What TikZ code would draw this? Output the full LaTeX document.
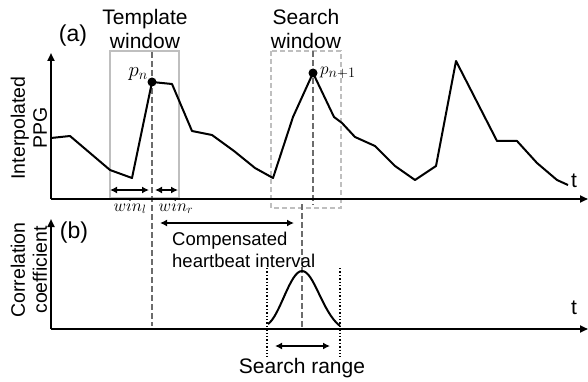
\documentclass[tikz,border=0pt]{standalone}
\usepackage{fontspec}
\setmainfont{Liberation Sans}
\usetikzlibrary{arrows.meta}
\begin{document}
\begin{tikzpicture}[x=1pt,y=-1pt,
  ax/.style={line width=2.2pt,-{Triangle[length=8pt,width=7pt]}},
  sig/.style={line width=2pt,line join=round},
  darr/.style={line width=2pt,{Latex[length=7pt,width=7pt]}-{Latex[length=7pt,width=7pt]}},
  vdash/.style={gray!85!black,line width=1.6pt,dash pattern=on 6pt off 3pt},
  rectbox/.style={black!25,line width=1.6pt},
  rectdash/.style={black!25,line width=1.6pt,dash pattern=on 5pt off 3pt},
  vdot/.style={line width=1.4pt,dotted},
  lbl/.style={inner sep=0pt,font=\fontsize{21}{24}\selectfont},
  lblsm/.style={inner sep=0pt,font=\fontsize{19.5}{22}\selectfont},
  lblc/.style={inner sep=0pt,font=\fontsize{18.5}{22}\selectfont},
  ]
\useasboundingbox (0,0) rectangle (588,382);
% windows
\draw[rectbox] (110,51) rectangle (179,198);
\draw[rectdash] (271,51) rectangle (341,208);
% dashed verticals
\coordinate (d1t) at (152,52); \coordinate (d1b) at (152,326);
\draw[vdash] (d1t) -- (d1b);
\coordinate (d2t) at (313,51); \coordinate (d2b) at (313,205);
\draw[vdash] (d2t) -- (d2b);
\coordinate (d3t) at (302,204); \coordinate (d3b) at (302,328);
\draw[vdash] (d3t) -- (d3b);
% axes (a)
\coordinate (o1) at (51,199);
\coordinate (ya) at (51,53);
\coordinate (xa) at (588,199);
\draw[ax] (o1) -- (ya);
\draw[ax] (o1) -- (xa);
% signal
\draw[sig] (51,138) -- (70,136) -- (90,153) -- (110,170) -- (132,178) -- (152,82) -- (172,84) -- (192,131) -- (212,135) -- (234,151) -- (255,168) -- (273,178) -- (293,117) -- (313,73) -- (334,117) -- (342,123) -- (355,137) -- (375,146) -- (395,166) -- (415,180) -- (436,166) -- (456,61) -- (497,141) -- (517,141) -- (537,163) -- (557,180) -- (568,185);
\fill (152,82) circle (4.5pt) node (pn) {};
\fill (313,73) circle (4.5pt) node (pn1) {};
\node[inner sep=0pt,anchor=east,font=\fontsize{20}{22}\selectfont] at (148,74) {$p_n$};
\node[inner sep=0pt,anchor=west,font=\fontsize{19}{22}\selectfont] at (320,73) {$p_{n+1}$};
% titles
\node[inner sep=0pt,font=\fontsize{23}{26}\selectfont] (a) at (73,36) {(a)};
\node[lbl,align=center] (tw) at (145,29) {Template\\window};
\node[lbl,align=center] (sw) at (306,29) {Search\\window};
\node[lbl] (t1) at (574,181) {t};
\node[lblsm,rotate=90,align=center] (ylab1) at (29,128) {Interpolated\\PPG};
% win arrows
\coordinate (w1) at (110,190); \coordinate (w2) at (149,190);
\coordinate (w3) at (155,190); \coordinate (w4) at (178,190);
\draw[darr] (w1) -- (w2);
\draw[darr] (w3) -- (w4);
\node[inner sep=0pt,font=\fontsize{18.5}{20}\selectfont] (wl) at (130,207) {$win_l$};
\node[inner sep=0pt,font=\fontsize{18.5}{20}\selectfont] (wr) at (176,207) {$win_r$};
% compensated
\coordinate (c1) at (160,223); \coordinate (c2) at (294,223);
\draw[darr] (c1) -- (c2);
\node[lblc,align=left,anchor=north west] (comp) at (172,232) {Compensated\\heartbeat interval};
% axes (b)
\coordinate (o2) at (51,329);
\coordinate (yb) at (51,219);
\coordinate (xb) at (588,329);
\draw[ax] (o2) -- (yb);
\draw[ax] (o2) -- (xb);
\node[inner sep=0pt,font=\fontsize{23}{26}\selectfont] (b) at (74,233) {(b)};
\node[lbl] (t2) at (574,308) {t};
\node[lblsm,rotate=90,align=center] (ylab2) at (29,270) {Correlation\\coefficient};
% gaussian
\draw[line width=2pt] (268,324) .. controls (280,316) and (290,271) .. (302,271) .. controls (314,271) and (322,312) .. (340,326);
% dotted
\coordinate (s1t) at (267,268); \coordinate (s1b) at (267,357);
\coordinate (s2t) at (340,268); \coordinate (s2b) at (340,357);
\draw[vdot] (s1t) -- (s1b);
\draw[vdot] (s2t) -- (s2b);
\coordinate (r1) at (275,346); \coordinate (r2) at (330,346);
\draw[darr] (r1) -- (r2);
\node[lbl] (sr) at (302,368) {Search range};
\end{tikzpicture}
\end{document}
